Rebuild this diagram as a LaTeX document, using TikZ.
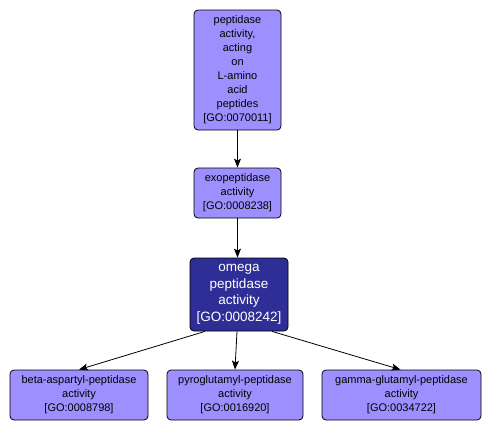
\documentclass[tikz,border=0pt]{standalone}
\usepackage{fontspec}
\setmainfont{Liberation Sans}
\usetikzlibrary{arrows.meta}
\definecolor{lightnode}{RGB}{158,143,255}
\definecolor{darknode}{RGB}{46,46,150}
\tikzset{
  goterm/.style={draw=black, line width=0.8pt, rounded corners=4pt, fill=lightnode,
    align=center, inner sep=0pt, font=\fontsize{11}{14}\selectfont},
  goterm dark/.style={goterm, fill=darknode, text=white, font=\fontsize{13.5}{16.5}\selectfont},
  isa/.style={draw=black, line width=0.8pt, -{Stealth[length=9pt,width=7pt,inset=2pt]}}
}
\begin{document}
\begin{tikzpicture}[x=1pt,y=-1pt]
\useasboundingbox (0,0) rectangle (493,431);
\node[goterm, minimum width=87pt, minimum height=120pt] (top) at (237.5,70)
  {peptidase\\activity,\\acting\\on\\L-amino\\acid\\peptides\\{[GO:0070011]}};
\node[goterm, minimum width=87pt, minimum height=50pt] (exo) at (237.5,193)
  {exopeptidase\\activity\\{[GO:0008238]}};
\node[goterm dark, minimum width=98pt, minimum height=73pt] (omega) at (239,294.5)
  {omega\\peptidase\\activity\\{[GO:0008242]}};
\node[goterm, minimum width=138pt, minimum height=50pt] (beta) at (79,395)
  {beta-aspartyl-peptidase\\activity\\{[GO:0008798]}};
\node[goterm, minimum width=136pt, minimum height=50pt] (pyro) at (235,395)
  {pyroglutamyl-peptidase\\activity\\{[GO:0016920]}};
\node[goterm, minimum width=159pt, minimum height=50pt] (gamma) at (401.5,395)
  {gamma-glutamyl-peptidase\\activity\\{[GO:0034722]}};
\draw[isa] (top.south) -- (exo.north);
\draw[isa] (exo.south) -- (omega.north -| exo.south);
\draw[isa] ([xshift=-34pt]omega.south) -- (beta.north);
\draw[isa] ([xshift=-2pt]omega.south) -- (pyro.north);
\draw[isa] ([xshift=33pt]omega.south) -- ([xshift=-1pt]gamma.north);
\end{tikzpicture}
\end{document}
